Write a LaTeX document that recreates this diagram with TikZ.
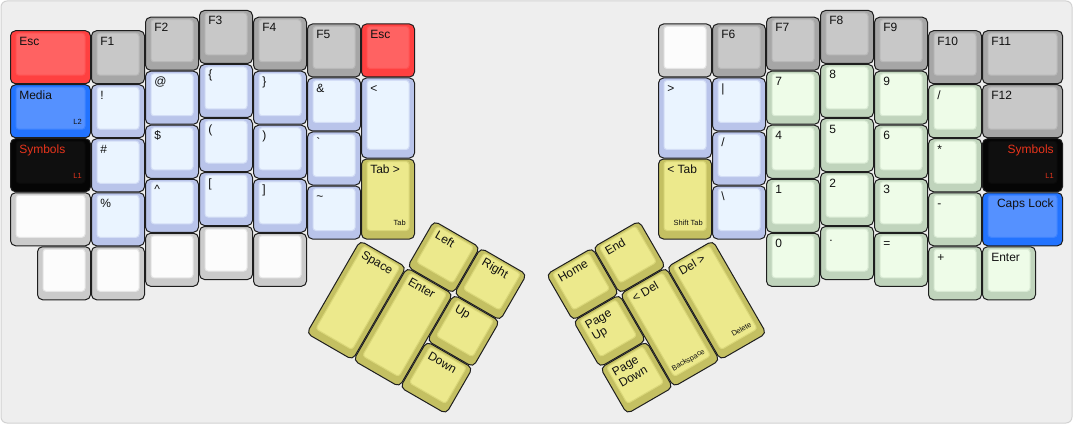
\documentclass[tikz,border=0pt]{standalone}
\usepackage{fontspec}
\setmainfont{Liberation Sans}
\definecolor{bgc}{HTML}{EEEEEE}
\definecolor{bgline}{HTML}{D2D2D2}
\definecolor{keyline}{HTML}{1E1E1E}
\definecolor{txt}{HTML}{111111}
\definecolor{symred}{HTML}{E8341C}
\definecolor{gOut}{HTML}{A6A6A6}\definecolor{gIn}{HTML}{C8C8C8}
\definecolor{wOut}{HTML}{CBCBCB}\definecolor{wIn}{HTML}{FCFCFC}
\definecolor{rOut}{HTML}{FF4040}\definecolor{rIn}{HTML}{FF6262}
\definecolor{bOut}{HTML}{2273FF}\definecolor{bIn}{HTML}{5591FF}
\definecolor{kOut}{HTML}{050505}\definecolor{kIn}{HTML}{0F0F0F}
\definecolor{lOut}{HTML}{B9C4EA}\definecolor{lIn}{HTML}{EAF4FF}
\definecolor{yOut}{HTML}{C4C062}\definecolor{yIn}{HTML}{ECE98C}
\definecolor{nOut}{HTML}{C0D4BC}\definecolor{nIn}{HTML}{EEFCE8}
\tikzset{
  lab/.style={inner sep=0pt, font=\fontsize{9}{10}\selectfont, text=txt},
  flab/.style={inner sep=0pt, font=\fontsize{5.6}{6}\selectfont, text=txt},
  keyouter/.style={draw=keyline, line width=0.75pt, rounded corners=3.75pt},
  keyinner/.style={line width=0.75pt, rounded corners=2.25pt},
}
% x y w h colour
\newcommand\kcap[5]{%
  \path[keyouter, fill=#5Out] (#1+0.5,#2+0.5) rectangle (#1+#3*54-0.5,#2+#4*54-0.5);
  \path[keyinner, draw=#5Out!45!#5In, fill=#5In] (#1+6,#2+3) rectangle (#1+#3*54-6,#2+#4*54-9);}
% id x y text
\newcommand\klab[4]{\node[lab, anchor=base west] (#1) at (#2+9,#3+15) {#4};}
% id x y w text
\newcommand\klabr[5]{\node[lab, anchor=base east] (#1) at (#2+#4*54-9,#3+15) {#5};}
% id x y w h text
\newcommand\kfront[6]{\node[flab, anchor=base east] (#1) at (#2+#4*54-9,#3+#5*54-14) {#6};}
\newcommand\twoline[2]{\begin{tabular}[t]{@{}l@{}}#1\\#2\end{tabular}}
\begin{document}
\begin{tikzpicture}[x=0.75pt, y=-0.75pt]
\useasboundingbox (0,0) rectangle (1073,424);
\path[fill=bgc, draw=bgline, line width=0.75pt, rounded corners=4.5pt] (1,1) rectangle (1072,423);
% ---------------- left half ----------------
\kcap{10}{30.25}{1.5}{1}{r}\klab{escl}{10}{30.25}{Esc}
\kcap{10}{84.25}{1.5}{1}{b}\klab{media}{10}{84.25}{Media}\kfront{mediaf}{10}{84.25}{1.5}{1}{L2}
\kcap{10}{138.25}{1.5}{1}{k}\klab{syml}{10}{138.25}{\color{symred}Symbols}\kfront{symlf}{10}{138.25}{1.5}{1}{\color{symred}L1}
\kcap{10}{192.25}{1.5}{1}{w}
\kcap{37}{246.25}{1}{1}{w}
%
\kcap{91}{30.25}{1}{1}{g}\klab{f1}{91}{30.25}{F1}
\kcap{91}{84.25}{1}{1}{l}\klab{excl}{91}{84.25}{!}
\kcap{91}{138.25}{1}{1}{l}\klab{hash}{91}{138.25}{\#}
\kcap{91}{192.25}{1}{1}{l}\klab{pct}{91}{192.25}{\%}
\kcap{91}{246.25}{1}{1}{w}
%
\kcap{145}{16.75}{1}{1}{g}\klab{f2}{145}{16.75}{F2}
\kcap{145}{70.75}{1}{1}{l}\klab{at}{145}{70.75}{@}
\kcap{145}{124.75}{1}{1}{l}\klab{dollar}{145}{124.75}{\$}
\kcap{145}{178.75}{1}{1}{l}\klab{caret}{145}{178.75}{\textasciicircum}
\kcap{145}{232.75}{1}{1}{w}
%
\kcap{199}{10}{1}{1}{g}\klab{f3}{199}{10}{F3}
\kcap{199}{64}{1}{1}{l}\klab{lbrace}{199}{64}{\{}
\kcap{199}{118}{1}{1}{l}\klab{lparen}{199}{118}{(}
\kcap{199}{172}{1}{1}{l}\klab{lbrack}{199}{172}{[}
\kcap{199}{226}{1}{1}{w}
%
\kcap{253}{16.75}{1}{1}{g}\klab{f4}{253}{16.75}{F4}
\kcap{253}{70.75}{1}{1}{l}\klab{rbrace}{253}{70.75}{\}}
\kcap{253}{124.75}{1}{1}{l}\klab{rparen}{253}{124.75}{)}
\kcap{253}{178.75}{1}{1}{l}\klab{rbrack}{253}{178.75}{]}
\kcap{253}{232.75}{1}{1}{w}
%
\kcap{307}{23.5}{1}{1}{g}\klab{f5}{307}{23.5}{F5}
\kcap{307}{77.5}{1}{1}{l}\klab{amp}{307}{77.5}{\&}
\kcap{307}{131.5}{1}{1}{l}\klab{grave}{307}{131.5}{\textasciigrave}
\kcap{307}{185.5}{1}{1}{l}\klab{tilde}{307}{185.5}{\textasciitilde}
%
\kcap{361}{23.5}{1}{1}{r}\klab{escr}{361}{23.5}{Esc}
\kcap{361}{77.5}{1}{1.5}{l}\klab{lt}{361}{77.5}{<}
\kcap{361}{158.5}{1}{1.5}{y}\klab{tabr}{361}{158.5}{Tab >}\kfront{tabrf}{361}{158.5}{1}{1.5}{Tab}
% ---------------- right half ----------------
\kcap{658}{23.5}{1}{1}{w}
\kcap{658}{77.5}{1}{1.5}{l}\klab{gt}{658}{77.5}{>}
\kcap{658}{158.5}{1}{1.5}{y}\klab{tabl}{658}{158.5}{< Tab}\kfront{tablf}{658}{158.5}{1}{1.5}{Shift Tab}
%
\kcap{712}{23.5}{1}{1}{g}\klab{f6}{712}{23.5}{F6}
\kcap{712}{77.5}{1}{1}{l}\klab{pipe}{712}{77.5}{|}
\kcap{712}{131.5}{1}{1}{l}\klab{slash}{712}{131.5}{/}
\kcap{712}{185.5}{1}{1}{l}\klab{bslash}{712}{185.5}{\textbackslash}
%
\kcap{766}{16.75}{1}{1}{g}\klab{f7}{766}{16.75}{F7}
\kcap{766}{70.75}{1}{1}{n}\klab{n7}{766}{70.75}{7}
\kcap{766}{124.75}{1}{1}{n}\klab{n4}{766}{124.75}{4}
\kcap{766}{178.75}{1}{1}{n}\klab{n1}{766}{178.75}{1}
\kcap{766}{232.75}{1}{1}{n}\klab{n0}{766}{232.75}{0}
%
\kcap{820}{10}{1}{1}{g}\klab{f8}{820}{10}{F8}
\kcap{820}{64}{1}{1}{n}\klab{n8}{820}{64}{8}
\kcap{820}{118}{1}{1}{n}\klab{n5}{820}{118}{5}
\kcap{820}{172}{1}{1}{n}\klab{n2}{820}{172}{2}
\kcap{820}{226}{1}{1}{n}\klab{ndot}{820}{226}{.}
%
\kcap{874}{16.75}{1}{1}{g}\klab{f9}{874}{16.75}{F9}
\kcap{874}{70.75}{1}{1}{n}\klab{n9}{874}{70.75}{9}
\kcap{874}{124.75}{1}{1}{n}\klab{n6}{874}{124.75}{6}
\kcap{874}{178.75}{1}{1}{n}\klab{n3}{874}{178.75}{3}
\kcap{874}{232.75}{1}{1}{n}\klab{neq}{874}{232.75}{=}
%
\kcap{928}{30.25}{1}{1}{g}\klab{f10}{928}{30.25}{F10}
\kcap{928}{84.25}{1}{1}{n}\klab{ndiv}{928}{84.25}{/}
\kcap{928}{138.25}{1}{1}{n}\klab{nmul}{928}{138.25}{*}
\kcap{928}{192.25}{1}{1}{n}\klab{nsub}{928}{192.25}{-}
\kcap{928}{246.25}{1}{1}{n}\klab{nadd}{928}{246.25}{+}
%
\kcap{982}{30.25}{1.5}{1}{g}\klab{f11}{982}{30.25}{F11}
\kcap{982}{84.25}{1.5}{1}{g}\klab{f12}{982}{84.25}{F12}
\kcap{982}{138.25}{1.5}{1}{k}\klabr{symr}{982}{138.25}{1.5}{\color{symred}Symbols}\kfront{symrf}{982}{138.25}{1.5}{1}{\color{symred}L1}
\kcap{982}{192.25}{1.5}{1}{b}\klabr{caps}{982}{192.25}{1.5}{Caps Lock}
\kcap{982}{246.25}{1}{1}{n}\klab{nenter}{982}{246.25}{Enter}
% ---------------- left thumb cluster ----------------
\begin{scope}[shift={(360,240)}, rotate=-30, transform shape]
\kcap{0}{0}{1}{2}{y}\klab{space}{0}{0}{Space}
\kcap{54}{0}{1}{2}{y}\klab{enterk}{54}{0}{Enter}
\kcap{54}{-54}{1}{1}{y}\klab{kleft}{54}{-54}{Left}
\kcap{108}{-54}{1}{1}{y}\klab{kright}{108}{-54}{Right}
\kcap{108}{0}{1}{1}{y}\klab{kup}{108}{0}{Up}
\kcap{108}{54}{1}{1}{y}\klab{kdown}{108}{54}{Down}
\end{scope}
% ---------------- right thumb cluster ----------------
\begin{scope}[shift={(713,240)}, rotate=30, transform shape]
\kcap{-54}{0}{1}{2}{y}\klab{delr}{-54}{0}{Del >}\kfront{delrf}{-54}{0}{1}{2}{Delete}
\kcap{-108}{0}{1}{2}{y}\klab{dell}{-108}{0}{< Del}\kfront{dellf}{-108}{0}{1}{2}{Backspace}
\kcap{-108}{-54}{1}{1}{y}\klab{kend}{-108}{-54}{End}
\kcap{-162}{-54}{1}{1}{y}\klab{khome}{-162}{-54}{Home}
\kcap{-162}{0}{1}{1}{y}\klab{kpgup}{-162}{0}{\twoline{Page}{Up}}
\kcap{-162}{54}{1}{1}{y}\klab{kpgdn}{-162}{54}{\twoline{Page}{Down}}
\end{scope}
\end{tikzpicture}
\end{document}
